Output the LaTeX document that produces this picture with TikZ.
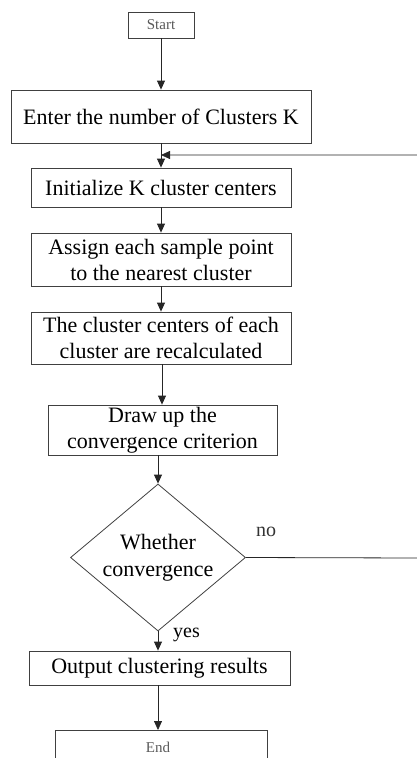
\documentclass[tikz,border=0pt]{standalone}
\usepackage{fontspec}
\setmainfont{Liberation Serif}
\usetikzlibrary{arrows.meta,shapes.geometric}
\begin{document}
\begin{tikzpicture}[x=1pt,y=-1pt,
  box/.style={draw=black!75,line width=0.8pt,inner sep=0pt,align=center,font=\fontsize{22}{26}\selectfont},
  smallbox/.style={draw=black!75,line width=0.8pt,inner sep=0pt,align=center,font=\fontsize{15}{17}\selectfont,text=black!65},
  arr/.style={-{Triangle[length=9pt,width=8pt]},line width=0.8pt,draw=black!85},
  lbl/.style={font=\fontsize{20}{22}\selectfont}]
\useasboundingbox (0,0) rectangle (417,758);
\node[smallbox,minimum width=66pt,minimum height=26pt] (start) at (161,25) {Start};
\node[box,minimum width=300pt,minimum height=53pt] (enter) at (161,116.5) {Enter the number of Clusters K};
\node[box,minimum width=260pt,minimum height=39pt] (init) at (161,187.5) {Initialize K cluster centers};
\node[box,minimum width=260pt,minimum height=53pt] (assign) at (161,259.5) {Assign each sample point\\to the nearest cluster};
\node[box,minimum width=260pt,minimum height=52pt] (recalc) at (161,338) {The cluster centers of each\\cluster are recalculated};
\node[box,minimum width=229pt,minimum height=50pt] (crit) at (162.5,430) {Draw up the\\convergence criterion};
\node[draw=black!75,line width=0.8pt,diamond,aspect=1.19,minimum width=175pt,minimum height=147pt,inner sep=0pt,align=center,font=\fontsize{22}{27}\selectfont] (dec) at (158,557.5) {Whether\\convergence};
\node[box,minimum width=261pt,minimum height=34pt] (out) at (159.5,668) {Output clustering results};
\node[smallbox,minimum width=212pt,minimum height=56pt,anchor=north] (end) at (161,730) {};
\node[font=\fontsize{15}{17}\selectfont,text=black!65] (endtxt) at (158,747) {End};
\coordinate (fb1) at (418,558);
\coordinate (fb2) at (418,155);
\coordinate (fb3) at (161,155);
\draw[arr] (start) -- (enter);
\draw[arr] (enter) -- (init);
\draw[arr] (init) -- (assign);
\draw[arr] (assign) -- (recalc);
\draw[arr] (recalc.south -| 162,0) -- (crit.north -| 162,0);
\draw[arr] (crit.south -| 158,0) -- (dec.north);
\draw[arr] (dec.south) -- (out.north -| dec.south);
\draw[arr] (out.south -| dec.south) -- (end.north -| dec.south);
\draw[arr] (dec.east) -- (fb1) -- (fb2) -- (fb3);
\node[lbl,text=black!80] (no) at (266,532) {no};
\node[lbl] (yes) at (186.5,635) {yes};
\end{tikzpicture}
\end{document}
